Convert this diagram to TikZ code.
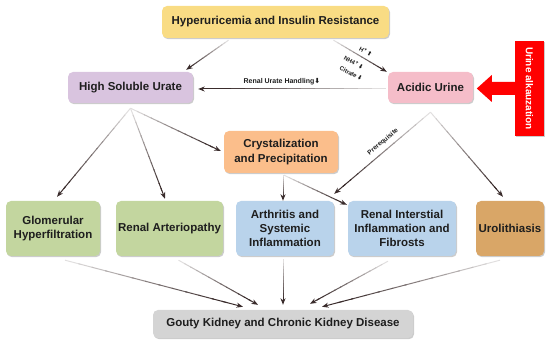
\documentclass[tikz,border=0pt]{standalone}
\usepackage{fontspec}
\setmainfont{Liberation Sans}
\newfontfamily\symf{DejaVu Sans}
\usetikzlibrary{calc,arrows.meta,shadows}
\definecolor{cYel}{HTML}{F9DC84}
\definecolor{cLav}{HTML}{D9C4DF}
\definecolor{cPink}{HTML}{F5BDC9}
\definecolor{cOra}{HTML}{FBBE8B}
\definecolor{cGrn}{HTML}{C3D69F}
\definecolor{cBlu}{HTML}{B9D3EB}
\definecolor{cTan}{HTML}{D9A667}
\definecolor{cGry}{HTML}{D4D4D4}
\definecolor{cRed}{HTML}{FF0000}
\definecolor{lnk}{HTML}{3A2C2C}
\definecolor{txt}{HTML}{1E1E1E}
\newcommand\garrow[2]{%
  \foreach \k in {0,...,11}{%
    \pgfmathsetmacro\pa{\k*0.9/12}%
    \pgfmathsetmacro\pb{(\k+1.15)*0.9/12}%
    \pgfmathtruncatemacro\sh{15+\k*85/11}%
    \draw[line width=1pt, draw=lnk!\sh!white] ($#1!\pa!#2$) -- ($#1!\pb!#2$);
  }%
  \draw[line width=1pt, draw=lnk, -{Stealth[length=6.5pt,width=5pt,inset=2pt]}] ($#1!0.88!#2$) -- #2;
}
\tikzset{
  box/.style={rounded corners=5pt, draw=none, text=txt, align=center, inner sep=2pt,
    font=\bfseries\fontsize{11.5}{13.8}\selectfont,
    general shadow={fill=black!20, shadow xshift=1pt, shadow yshift=-1.2pt}},
  lbl/.style={font=\bfseries\fontsize{6.5}{7}\selectfont, text=txt, inner sep=0pt},
}
\begin{document}
\begin{tikzpicture}[x=1pt,y=-1pt]
\useasboundingbox (0,0) rectangle (550,344);
% nodes
\node[box, fill=cYel, minimum width=227pt, minimum height=32pt] (top) at (275.5,22) {Hyperuricemia and Insulin Resistance};
\node[box, fill=cLav, minimum width=125pt, minimum height=31pt] (hsu) at (130.5,87.5) {High Soluble Urate};
\node[box, fill=cPink, minimum width=85pt, minimum height=31pt] (acid) at (430.5,87.5) {Acidic Urine};
\node[fill=cRed, minimum width=29pt, minimum height=95pt, inner sep=0pt,
  general shadow={fill=black!20, shadow xshift=1pt, shadow yshift=-1.2pt}] (alk) at (529.5,88.5) {};
\node[rotate=-90, text=white, font=\bfseries\fontsize{10}{11}\selectfont] (alkt) at (alk.center) {Urine alkauzation};
\node[box, fill=cOra, minimum width=114pt, minimum height=42pt, font=\bfseries\fontsize{11.5}{15}\selectfont] (cryst) at (281,152) {Crystalization\\and Precipitation};
\node[box, fill=cGrn, minimum width=94pt, minimum height=55pt] (glom) at (53,228.5) {Glomerular\\Hyperfiltration};
\node[box, fill=cGrn, minimum width=107pt, minimum height=55pt] (art) at (169.5,228.5) {Renal Arteriopathy};
\node[box, fill=cBlu, minimum width=98pt, minimum height=55pt] (arth) at (285,228.5) {Arthritis and\\Systemic\\Inflammation};
\node[box, fill=cBlu, minimum width=108pt, minimum height=55pt] (renint) at (402,228.5) {Renal Interstial\\Inflammation and\\Fibrosts};
\node[box, fill=cTan, minimum width=68pt, minimum height=55pt] (uro) at (510,228.5) {Urolithiasis};
\node[box, fill=cGry, minimum width=260pt, minimum height=28pt] (gouty) at (283,324) {Gouty Kidney and Chronic Kidney Disease};
% red arrow
\fill[cRed] ($(alk.west)+(0.5,-6.5)$) -- ++(-23.5,0) -- ++(0,-7) -- ++(-15,13.5) -- ++(15,13.5) -- ++(0,-7) -- ++(23.5,0) -- cycle;
% connector end points
\coordinate (s1) at ($(top.south)+(-47,2)$);
\coordinate (e1) at ($(hsu.north east)+(-7,-2)$);
\coordinate (s2) at ($(top.south)+(58,2)$);
\coordinate (e2) at ($(acid.north west)+(-1,0)$);
\coordinate (s3) at ($(acid.west)+(-2,1.5)$);
\coordinate (e3) at ($(hsu.east)+(5,1.5)$);
\coordinate (sh) at ($(hsu.south)+(0,5)$);
\coordinate (e4) at ($(glom.north)+(4,-4)$);
\coordinate (e5) at ($(art.north)+(-4.5,-2)$);
\coordinate (e6) at ($(cryst.west)+(-3,-1)$);
\coordinate (s7) at ($(cryst.south)+(2,2)$);
\coordinate (e7) at ($(arth.north)+(-2,0)$);
\coordinate (s8) at ($(cryst.south)+(3,2)$);
\coordinate (e8) at ($(renint.north west)+(-1,4)$);
\coordinate (sa) at ($(acid.south)+(0,9)$);
\coordinate (e9) at ($(arth.north east)+(0,-7)$);
\coordinate (e10) at ($(uro.north)+(-7,-4)$);
\coordinate (s11) at ($(glom.south)+(12,4)$);
\coordinate (e11) at ($(gouty.north)+(-40,-3)$);
\coordinate (s12) at ($(art.south)+(9,4)$);
\coordinate (e12) at ($(gouty.north)+(-25,-5)$);
\coordinate (s13) at ($(arth.south)+(-2,3)$);
\coordinate (e13) at ($(gouty.north)+(0,-5)$);
\coordinate (s14) at ($(renint.south)+(-14,5)$);
\coordinate (e14) at ($(gouty.north)+(27,-6)$);
\coordinate (s15) at ($(uro.south)+(-10,4)$);
\coordinate (e15) at ($(gouty.north)+(39,-3)$);
% connectors
\garrow{(s1)}{(e1)}
\garrow{(s2)}{(e2)}
\garrow{(s3)}{(e3)}
\garrow{(sh)}{(e4)}
\garrow{(sh)}{(e5)}
\garrow{(sh)}{(e6)}
\garrow{(s7)}{(e7)}
\garrow{(s8)}{(e8)}
\garrow{(sa)}{(e9)}
\garrow{(sa)}{(e10)}
\garrow{(s11)}{(e11)}
\garrow{(s12)}{(e12)}
\garrow{(s13)}{(e13)}
\garrow{(s14)}{(e14)}
\garrow{(s15)}{(e15)}
% labels
\node[lbl, font=\bfseries\fontsize{7}{8}\selectfont] (ruh) at (282,81.5) {Renal Urate Handling{\symf ⬇}};
\node[lbl, rotate=40] (pre) at (383,142) {Prerequisite};
\node[lbl, rotate=-29, font=\bfseries\fontsize{6}{7}\selectfont] (hp) at (366,51.5) {H\textsuperscript{+}\,{\symf ⬆}};
\node[lbl, rotate=-29, font=\bfseries\fontsize{6}{7}\selectfont] (nh) at (354,62.5) {NH4\textsuperscript{+}\,{\symf ⬇}};
\node[lbl, rotate=-29, font=\bfseries\fontsize{6}{7}\selectfont] (cit) at (351,73.5) {Citrate\,{\symf ⬇}};
\end{tikzpicture}
\end{document}
